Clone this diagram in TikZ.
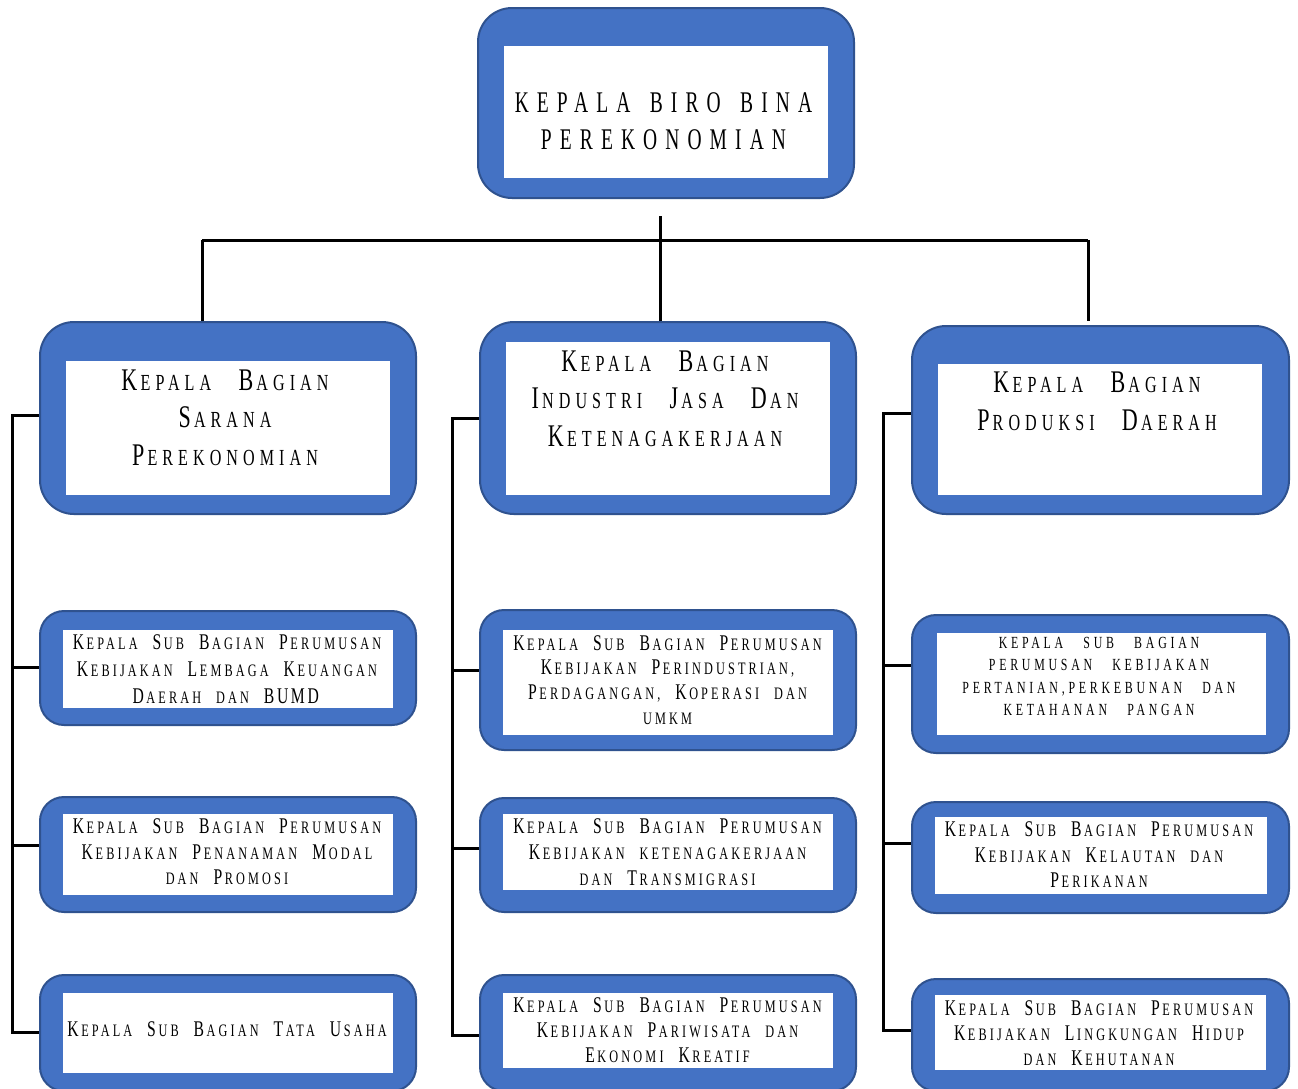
\documentclass[tikz,border=0pt]{standalone}
\usepackage{fontspec}
\usepackage{graphicx}
\newfontfamily\topfont[FakeStretch=0.65,LetterSpace=27,WordSpace=1.5]{Liberation Serif}
\newfontfamily\lvfont[FakeStretch=0.7,LetterSpace=22,WordSpace=3]{Liberation Serif}
\newfontfamily\orgfont[FakeStretch=0.7,LetterSpace=18,WordSpace=2.4]{Liberation Serif}
\newfontfamily\capfont[FakeStretch=0.7,LetterSpace=22,WordSpace=3]{Liberation Serif}
\newcommand\BL[1]{\scalebox{1.37}{#1}\kern0.14em}
\newcommand\Bs[1]{\scalebox{1.28}{#1}\kern0.15em}
\definecolor{boxblue}{HTML}{4472C4}
\definecolor{edgeblue}{HTML}{2F528F}
\tikzset{
  outerbox/.style={draw=edgeblue, fill=boxblue, line width=2pt, rectangle, inner sep=0pt},
  inbox/.style={fill=white, draw=none, rectangle, inner sep=0pt},
  txt/.style={align=center, inner sep=0pt, text=black},
  conn/.style={draw=black, line width=3pt},
  bigfont/.style={font={\lvfont\fontsize{23}{37.5}\selectfont}},
}
\begin{document}
\begin{tikzpicture}[x=1pt,y=-1pt]
\useasboundingbox (0,0) rectangle (1298,1088);
\fill[white] (0,0) rectangle (1298,1088);

% ---- top box
\node[outerbox, minimum width=376pt, minimum height=190pt, rounded corners=34pt] (T) at (666,103) {};
\node[inbox, minimum width=324pt, minimum height=132pt] (Ti) at (666,112) {};
\node[txt, font={\topfont\fontsize{30}{37}\selectfont}] (Tt) at (663.5,121.5) {KEPALA BIRO BINA\\PEREKONOMIAN};

% ---- level 2
\node[outerbox, minimum width=376pt, minimum height=192pt, rounded corners=34pt] (L) at (228,418) {};
\node[inbox, minimum width=324pt, minimum height=134pt] (Li) at (228,428) {};
\node[txt, bigfont] (Lt) at (225,417.5) {\BL{K}EPALA \BL{B}AGIAN\\\BL{S}ARANA\\\BL{P}EREKONOMIAN};

\node[outerbox, minimum width=376pt, minimum height=192pt, rounded corners=34pt] (M) at (668,418) {};
\node[inbox, minimum width=324pt, minimum height=153pt] (Mi) at (668,418.5) {};
\node[txt, bigfont] (Mt) at (665,398.5) {\BL{K}EPALA \BL{B}AGIAN\\\BL{I}NDUSTRI \BL{J}ASA \BL{D}AN\\\BL{K}ETENAGAKERJAAN};

\node[outerbox, minimum width=377pt, minimum height=188pt, rounded corners=34pt] (R) at (1100.5,420) {};
\node[inbox, minimum width=324pt, minimum height=131pt] (Ri) at (1100,429.5) {};
\node[txt, bigfont] (Rt) at (1097,401.5) {\BL{K}EPALA \BL{B}AGIAN\\\BL{P}RODUKSI \BL{D}AERAH};

% ---- left column
\node[outerbox, minimum width=376pt, minimum height=114pt, rounded corners=24pt] (S11) at (228,668) {};
\node[inbox, minimum width=330pt, minimum height=78pt] (S11i) at (228,669) {};
\node[txt, font={\orgfont\fontsize{17.5}{27}\selectfont}] (S11t) at (227,669) {\Bs{K}EPALA \Bs{S}UB \Bs{B}AGIAN \Bs{P}ERUMUSAN\\\Bs{K}EBIJAKAN \Bs{L}EMBAGA \Bs{K}EUANGAN\\\Bs{D}AERAH DAN \Bs{B}\Bs{U}\Bs{M}\Bs{D}};

\node[outerbox, minimum width=376pt, minimum height=115pt, rounded corners=24pt] (S12) at (228,854.5) {};
\node[inbox, minimum width=330pt, minimum height=81pt] (S12i) at (228,854.5) {};
\node[txt, font={\orgfont\fontsize{17.5}{25.5}\selectfont}] (S12t) at (227,852) {\Bs{K}EPALA \Bs{S}UB \Bs{B}AGIAN \Bs{P}ERUMUSAN\\\Bs{K}EBIJAKAN \Bs{P}ENANAMAN \Bs{M}ODAL\\DAN \Bs{P}ROMOSI};

\node[outerbox, minimum width=376pt, minimum height=116pt, rounded corners=24pt] (S13) at (228,1033) {};
\node[inbox, minimum width=330pt, minimum height=80pt] (S13i) at (228,1033) {};
\node[txt, font={\orgfont\fontsize{17.5}{25}\selectfont}] (S13t) at (227,1029) {\Bs{K}EPALA \Bs{S}UB \Bs{B}AGIAN \Bs{T}ATA \Bs{U}SAHA};

% ---- middle column
\node[outerbox, minimum width=376pt, minimum height=140pt, rounded corners=24pt] (S21) at (668,680) {};
\node[inbox, minimum width=330pt, minimum height=105pt] (S21i) at (668,682.5) {};
\node[txt, font={\orgfont\fontsize{17.5}{24.7}\selectfont}] (S21t) at (667.5,680) {\Bs{K}EPALA \Bs{S}UB \Bs{B}AGIAN \Bs{P}ERUMUSAN\\\Bs{K}EBIJAKAN \Bs{P}ERINDUSTRIAN,\\\Bs{P}ERDAGANGAN, \Bs{K}OPERASI DAN\\UMKM};

\node[outerbox, minimum width=376pt, minimum height=114pt, rounded corners=24pt] (S22) at (668,855) {};
\node[inbox, minimum width=330pt, minimum height=76pt] (S22i) at (668,852) {};
\node[txt, font={\orgfont\fontsize{17.5}{26}\selectfont}] (S22t) at (667.5,852.5) {\Bs{K}EPALA \Bs{S}UB \Bs{B}AGIAN \Bs{P}ERUMUSAN\\\Bs{K}EBIJAKAN KETENAGAKERJAAN\\DAN \Bs{T}RANSMIGRASI};

\node[outerbox, minimum width=376pt, minimum height=116pt, rounded corners=24pt] (S23) at (668,1033) {};
\node[inbox, minimum width=330pt, minimum height=75pt] (S23i) at (668,1030.5) {};
\node[txt, font={\orgfont\fontsize{17.5}{25}\selectfont}] (S23t) at (667.5,1030) {\Bs{K}EPALA \Bs{S}UB \Bs{B}AGIAN \Bs{P}ERUMUSAN\\\Bs{K}EBIJAKAN \Bs{P}ARIWISATA DAN\\\Bs{E}KONOMI \Bs{K}REATIF};

% ---- right column
\node[outerbox, minimum width=377pt, minimum height=138pt, rounded corners=24pt] (S31) at (1100.5,684) {};
\node[inbox, minimum width=329pt, minimum height=102pt] (S31i) at (1101.5,684) {};
\node[txt, font={\capfont\fontsize{17}{22.3}\selectfont}] (S31t) at (1099,676.5) {KEPALA SUB BAGIAN\\PERUMUSAN KEBIJAKAN\\PERTANIAN,PERKEBUNAN DAN\\KETAHANAN PANGAN};

\node[outerbox, minimum width=377pt, minimum height=111pt, rounded corners=24pt] (S32) at (1100.5,857.5) {};
\node[inbox, minimum width=332pt, minimum height=77pt] (S32i) at (1101,855.5) {};
\node[txt, font={\orgfont\fontsize{17.5}{25.5}\selectfont}] (S32t) at (1099,855) {\Bs{K}EPALA \Bs{S}UB \Bs{B}AGIAN \Bs{P}ERUMUSAN\\\Bs{K}EBIJAKAN \Bs{K}ELAUTAN DAN\\\Bs{P}ERIKANAN};

\node[outerbox, minimum width=377pt, minimum height=112pt, rounded corners=24pt] (S33) at (1100.5,1035) {};
\node[inbox, minimum width=331pt, minimum height=75pt] (S33i) at (1100.5,1032.5) {};
\node[txt, font={\orgfont\fontsize{17.5}{25}\selectfont}] (S33t) at (1099,1033) {\Bs{K}EPALA \Bs{S}UB \Bs{B}AGIAN \Bs{P}ERUMUSAN\\\Bs{K}EBIJAKAN \Bs{L}INGKUNGAN \Bs{H}IDUP\\DAN \Bs{K}EHUTANAN};

% ---- top connectors
\coordinate (drop) at (660,216);
\coordinate (hl) at (202,240);
\coordinate (hr) at (1088,240);
\draw[conn] (drop) -- (drop |- M.north);
\draw[conn] (hl) -- (hr);
\draw[conn] (hl) -- (hl |- L.north);
\draw[conn] (hr) -- (hr |- L.north);

% ---- brackets
\coordinate (bL) at (12,0);
\coordinate (bM) at (452,0);
\coordinate (bR) at (883,0);

\coordinate (pL) at ([yshift=3pt]L.west);
\coordinate (p11) at ([yshift=1pt]S11.west);
\coordinate (p12) at ([yshift=9.5pt]S12.west);
\coordinate (p13) at ([yshift=1pt]S13.west);
\draw[conn] (pL) -- (pL -| bL) -- (p13 -| bL) -- (p13);
\draw[conn] (p11 -| bL) -- (p11);
\draw[conn] (p12 -| bL) -- (p12);

\coordinate (pM) at (M.west);
\coordinate (p21) at ([yshift=10pt]S21.west);
\coordinate (p22) at ([yshift=7pt]S22.west);
\coordinate (p23) at ([yshift=-2pt]S23.west);
\draw[conn] (pM) -- (pM -| bM) -- (p23 -| bM) -- (p23);
\draw[conn] (p21 -| bM) -- (p21);
\draw[conn] (p22 -| bM) -- (p22);

\coordinate (pR) at ([yshift=7pt]R.west);
\coordinate (p31) at ([yshift=19pt]S31.west);
\coordinate (p32) at ([yshift=14.5pt]S32.west);
\coordinate (p33) at ([yshift=5pt]S33.west);
\draw[conn] (pR) -- (pR -| bR) -- (p33 -| bR) -- (p33);
\draw[conn] (p31 -| bR) -- (p31);
\draw[conn] (p32 -| bR) -- (p32);
\end{tikzpicture}
\end{document}
